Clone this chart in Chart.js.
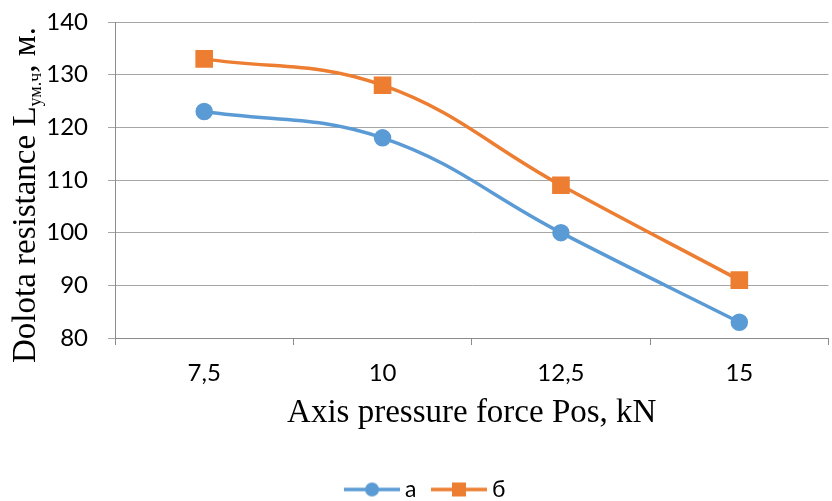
<!DOCTYPE html>
<html><head><meta charset="utf-8">
<script src="https://cdn.jsdelivr.net/npm/chart.js@4/dist/chart.umd.min.js"></script>
<style>html,body{margin:0;padding:0;overflow:hidden;background:#fff}#wrap{width:842px;height:511px}</style>
</head><body><div id="wrap"><canvas id="c" width="842" height="511"></canvas></div>
<script>
const categories = ['7,5', '10', '12,5', '15'];
const seriesA = [123, 118, 100, 83];
const seriesB = [133, 128, 109, 91];
const seriesNames = ['а', 'б'];
const yMin = 80, yMax = 140, yStep = 10;
const xTitle = 'Axis pressure force Pos, kN';
const yTitleMain = 'Dolota resistance L';
const yTitleSub = 'ум.ч';
const yTitleEnd = ', м.';

const BLUE = '#5B9BD5', ORANGE = '#ED7D31';

function legendImg(color, style) {
  const c = document.createElement('canvas');
  c.width = 56; c.height = 16;
  const g = c.getContext('2d');
  g.strokeStyle = color; g.lineWidth = 3.5;
  g.beginPath(); g.moveTo(0, 8); g.lineTo(56, 8); g.stroke();
  g.fillStyle = color;
  if (style === 'circle') { g.beginPath(); g.arc(28, 8, 7, 0, Math.PI * 2); g.fill(); }
  else { g.fillRect(21, 1, 14, 14); }
  return c;
}
const legendImgs = [legendImg(BLUE, 'circle'), legendImg(ORANGE, 'rect')];

const yTitlePlugin = {
  id: 'yTitle',
  afterDraw(chart) {
    const ctx = chart.ctx;
    ctx.save();
    const big = '33px "Liberation Serif", "Times New Roman", serif';
    const small = '18px "Liberation Serif", "Times New Roman", serif';
    ctx.font = big; const w1 = ctx.measureText(yTitleMain).width;
    ctx.font = small; const w2 = ctx.measureText(yTitleSub).width;
    ctx.translate(35, 363);
    ctx.rotate(-Math.PI / 2);
    ctx.fillStyle = '#000';
    ctx.textAlign = 'left'; ctx.textBaseline = 'alphabetic';
    ctx.font = big; ctx.fillText(yTitleMain, 0, 0);
    ctx.font = small; ctx.fillText(yTitleSub, w1, 6);
    ctx.font = big; ctx.fillText(yTitleEnd, w1 + w2, 0);
    ctx.restore();
  }
};

new Chart(document.getElementById('c'), {
  type: 'line',
  data: {
    labels: categories,
    datasets: [
      { label: seriesNames[0], data: seriesA, borderColor: BLUE, backgroundColor: BLUE, borderWidth: 3.5,
        pointStyle: 'circle', pointRadius: 7, pointHoverRadius: 7, tension: 0.4 },
      { label: seriesNames[1], data: seriesB, borderColor: ORANGE, backgroundColor: ORANGE, borderWidth: 3.5,
        pointStyle: 'rect', pointRadius: 10, pointHoverRadius: 10, tension: 0.4 }
    ]
  },
  options: {
    responsive: false,
    animation: false,
    layout: { padding: { left: 14, top: 22, right: 0, bottom: 0 } },
    plugins: {
      tooltip: { enabled: false },
      legend: {
        position: 'bottom',
        labels: {
          usePointStyle: true, pointStyleWidth: 43, padding: 21,
          color: '#000', font: { family: 'Lato', size: 23 },
          generateLabels(chart) {
            const items = Chart.defaults.plugins.legend.labels.generateLabels(chart);
            items.forEach((it, i) => { it.pointStyle = legendImgs[i]; it.rotation = 0; });
            return items;
          }
        }
      }
    },
    scales: {
      x: {
        offset: true,
        grid: { offset: true, drawOnChartArea: false, drawTicks: true, tickLength: 7, color: '#8c8c8c' },
        border: { color: '#8c8c8c', width: 1 },
        ticks: { color: '#000', font: { family: 'Lato', size: 24 }, padding: 14, maxRotation: 0 },
        title: { display: true, text: xTitle, color: '#000', font: { family: '"Liberation Serif"', size: 33 }, padding: { top: 0, bottom: 24 } },
        afterFit(s) { s.height = 119; }
      },
      y: {
        min: yMin, max: yMax,
        ticks: { stepSize: yStep, color: '#000', font: { family: 'Lato', size: 24 }, padding: 20 },
        grid: { color: '#a6a6a6', tickLength: 7, drawTicks: true },
        border: { color: '#8c8c8c', width: 1 },
        afterFit(s) { s.width = 101; s.paddingTop = 0; s.paddingBottom = 0; }
      }
    }
  },
  plugins: [yTitlePlugin]
});
</script></body></html>
